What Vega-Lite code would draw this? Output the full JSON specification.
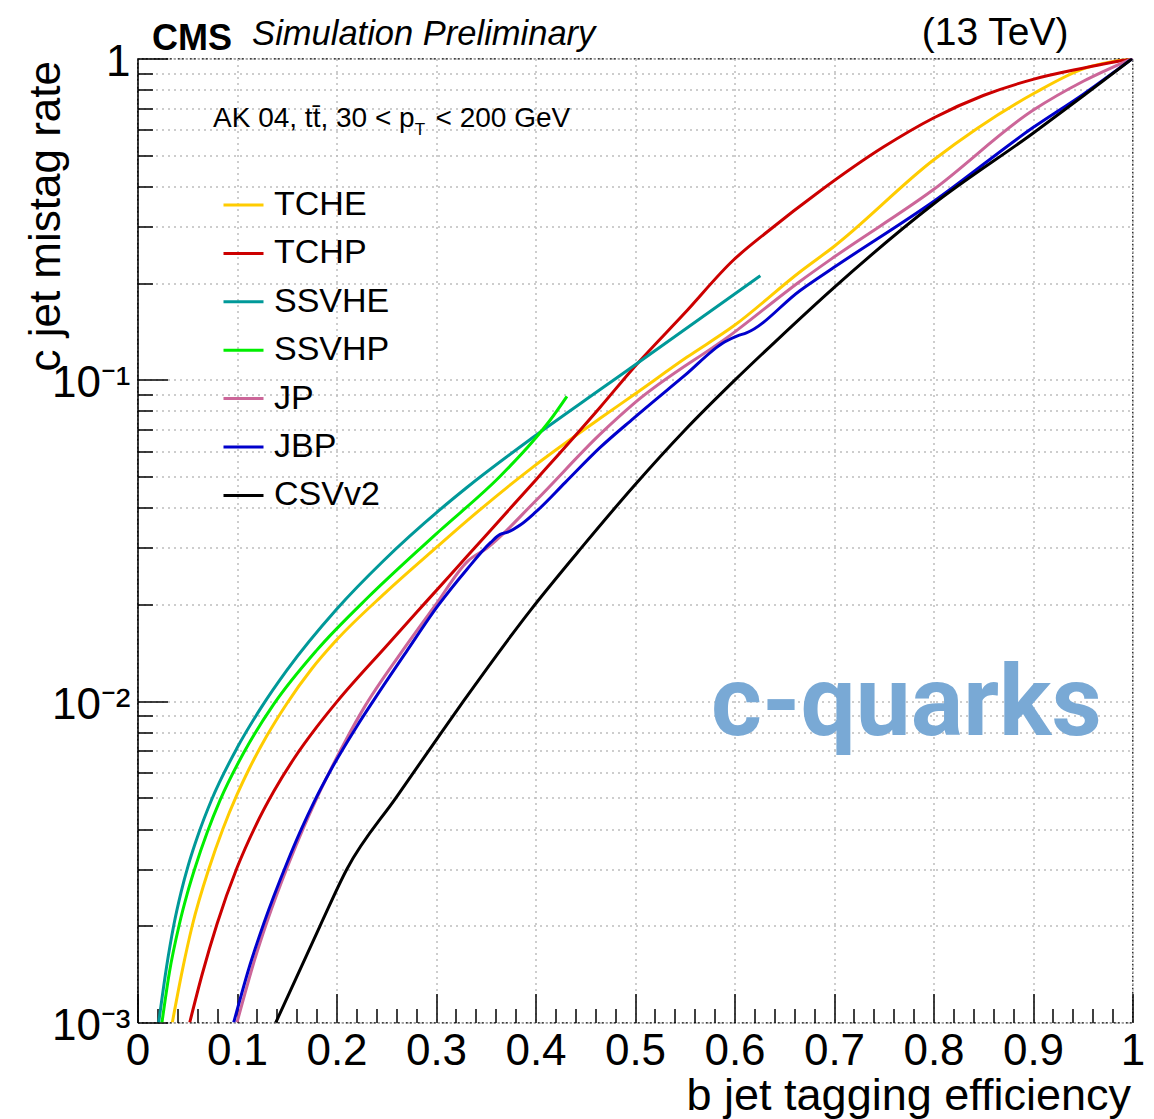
{
  "$schema": "https://vega.github.io/schema/vega-lite/v6.json",
  "width": 995,
  "height": 964,
  "autosize": {"type": "none"},
  "padding": {"left": 137.5, "top": 58.5, "right": 21.5, "bottom": 96.5},
  "background": "white",
  "config": {
    "view": {"stroke": "black", "strokeDash": [2, 2], "strokeWidth": 1.2},
    "text": {"font": "Liberation Sans", "color": "black"}
  },
  "datasets": {
    "curves": [
      {"tagger": "TCHE", "b": 0.035, "c": 0.001},
      {"tagger": "TCHE", "b": 0.045, "c": 0.00145},
      {"tagger": "TCHE", "b": 0.055, "c": 0.002},
      {"tagger": "TCHE", "b": 0.072, "c": 0.003027},
      {"tagger": "TCHE", "b": 0.086, "c": 0.004018},
      {"tagger": "TCHE", "b": 0.1, "c": 0.005117},
      {"tagger": "TCHE", "b": 0.112, "c": 0.00614},
      {"tagger": "TCHE", "b": 0.13, "c": 0.0078},
      {"tagger": "TCHE", "b": 0.15, "c": 0.00982},
      {"tagger": "TCHE", "b": 0.175, "c": 0.01259},
      {"tagger": "TCHE", "b": 0.2, "c": 0.01549},
      {"tagger": "TCHE", "b": 0.249, "c": 0.02173},
      {"tagger": "TCHE", "b": 0.301, "c": 0.0302},
      {"tagger": "TCHE", "b": 0.331, "c": 0.0364},
      {"tagger": "TCHE", "b": 0.398, "c": 0.0537},
      {"tagger": "TCHE", "b": 0.465, "c": 0.0759},
      {"tagger": "TCHE", "b": 0.4985, "c": 0.0897},
      {"tagger": "TCHE", "b": 0.552, "c": 0.1175},
      {"tagger": "TCHE", "b": 0.599, "c": 0.147},
      {"tagger": "TCHE", "b": 0.666, "c": 0.217},
      {"tagger": "TCHE", "b": 0.7, "c": 0.26},
      {"tagger": "TCHE", "b": 0.8, "c": 0.483},
      {"tagger": "TCHE", "b": 0.9007, "c": 0.778},
      {"tagger": "TCHE", "b": 0.951, "c": 0.93},
      {"tagger": "TCHE", "b": 1.0, "c": 1.0},

      {"tagger": "TCHP", "b": 0.0525, "c": 0.001},
      {"tagger": "TCHP", "b": 0.065, "c": 0.001413},
      {"tagger": "TCHP", "b": 0.08, "c": 0.00203},
      {"tagger": "TCHP", "b": 0.1, "c": 0.00303},
      {"tagger": "TCHP", "b": 0.118, "c": 0.00405},
      {"tagger": "TCHP", "b": 0.137, "c": 0.00524},
      {"tagger": "TCHP", "b": 0.158, "c": 0.00668},
      {"tagger": "TCHP", "b": 0.18, "c": 0.0083},
      {"tagger": "TCHP", "b": 0.2003, "c": 0.00995},
      {"tagger": "TCHP", "b": 0.25, "c": 0.01483},
      {"tagger": "TCHP", "b": 0.29, "c": 0.02037},
      {"tagger": "TCHP", "b": 0.331, "c": 0.02818},
      {"tagger": "TCHP", "b": 0.401, "c": 0.04908},
      {"tagger": "TCHP", "b": 0.465, "c": 0.0822},
      {"tagger": "TCHP", "b": 0.4985, "c": 0.1089},
      {"tagger": "TCHP", "b": 0.55, "c": 0.1614},
      {"tagger": "TCHP", "b": 0.599, "c": 0.236},
      {"tagger": "TCHP", "b": 0.633, "c": 0.289},
      {"tagger": "TCHP", "b": 0.686, "c": 0.387},
      {"tagger": "TCHP", "b": 0.75, "c": 0.531},
      {"tagger": "TCHP", "b": 0.8, "c": 0.653},
      {"tagger": "TCHP", "b": 0.85, "c": 0.767},
      {"tagger": "TCHP", "b": 0.9, "c": 0.861},
      {"tagger": "TCHP", "b": 0.95, "c": 0.933},
      {"tagger": "TCHP", "b": 1.0, "c": 1.0},

      {"tagger": "SSVHE", "b": 0.0213, "c": 0.001},
      {"tagger": "SSVHE", "b": 0.029, "c": 0.001476},
      {"tagger": "SSVHE", "b": 0.0364, "c": 0.002004},
      {"tagger": "SSVHE", "b": 0.044, "c": 0.002559},
      {"tagger": "SSVHE", "b": 0.051, "c": 0.003083},
      {"tagger": "SSVHE", "b": 0.0615, "c": 0.003881},
      {"tagger": "SSVHE", "b": 0.0746, "c": 0.004943},
      {"tagger": "SSVHE", "b": 0.1, "c": 0.007145},
      {"tagger": "SSVHE", "b": 0.1249, "c": 0.009616},
      {"tagger": "SSVHE", "b": 0.15, "c": 0.01247},
      {"tagger": "SSVHE", "b": 0.2003, "c": 0.01936},
      {"tagger": "SSVHE", "b": 0.247, "c": 0.02731},
      {"tagger": "SSVHE", "b": 0.304, "c": 0.03945},
      {"tagger": "SSVHE", "b": 0.331, "c": 0.04624},
      {"tagger": "SSVHE", "b": 0.398, "c": 0.06637},
      {"tagger": "SSVHE", "b": 0.465, "c": 0.09325},
      {"tagger": "SSVHE", "b": 0.4985, "c": 0.1104},
      {"tagger": "SSVHE", "b": 0.626, "c": 0.2108},

      {"tagger": "SSVHP", "b": 0.0246, "c": 0.001},
      {"tagger": "SSVHP", "b": 0.032, "c": 0.001429},
      {"tagger": "SSVHP", "b": 0.042, "c": 0.002018},
      {"tagger": "SSVHP", "b": 0.05, "c": 0.002518},
      {"tagger": "SSVHP", "b": 0.058, "c": 0.003041},
      {"tagger": "SSVHP", "b": 0.07, "c": 0.0039},
      {"tagger": "SSVHP", "b": 0.083, "c": 0.00492},
      {"tagger": "SSVHP", "b": 0.107, "c": 0.006934},
      {"tagger": "SSVHP", "b": 0.1366, "c": 0.00975},
      {"tagger": "SSVHP", "b": 0.18, "c": 0.01439},
      {"tagger": "SSVHP", "b": 0.232, "c": 0.02109},
      {"tagger": "SSVHP", "b": 0.284, "c": 0.02985},
      {"tagger": "SSVHP", "b": 0.304, "c": 0.03397},
      {"tagger": "SSVHP", "b": 0.3645, "c": 0.05012},
      {"tagger": "SSVHP", "b": 0.398, "c": 0.06471},
      {"tagger": "SSVHP", "b": 0.4148, "c": 0.07499},
      {"tagger": "SSVHP", "b": 0.4316, "c": 0.08886},

      {"tagger": "JP", "b": 0.1, "c": 0.001},
      {"tagger": "JP", "b": 0.118, "c": 0.001578},
      {"tagger": "JP", "b": 0.13, "c": 0.002051},
      {"tagger": "JP", "b": 0.152, "c": 0.003126},
      {"tagger": "JP", "b": 0.167, "c": 0.004046},
      {"tagger": "JP", "b": 0.18, "c": 0.004977},
      {"tagger": "JP", "b": 0.1936, "c": 0.006081},
      {"tagger": "JP", "b": 0.2103, "c": 0.007656},
      {"tagger": "JP", "b": 0.227, "c": 0.009462},
      {"tagger": "JP", "b": 0.265, "c": 0.01416},
      {"tagger": "JP", "b": 0.299, "c": 0.01982},
      {"tagger": "JP", "b": 0.332, "c": 0.02729},
      {"tagger": "JP", "b": 0.351, "c": 0.02992},
      {"tagger": "JP", "b": 0.4, "c": 0.04198},
      {"tagger": "JP", "b": 0.465, "c": 0.06776},
      {"tagger": "JP", "b": 0.4985, "c": 0.08414},
      {"tagger": "JP", "b": 0.599, "c": 0.14},
      {"tagger": "JP", "b": 0.666, "c": 0.2027},
      {"tagger": "JP", "b": 0.7, "c": 0.241},
      {"tagger": "JP", "b": 0.8, "c": 0.391},
      {"tagger": "JP", "b": 0.9, "c": 0.69},
      {"tagger": "JP", "b": 0.951, "c": 0.851},
      {"tagger": "JP", "b": 1.0, "c": 1.0},

      {"tagger": "JBP", "b": 0.0967, "c": 0.001},
      {"tagger": "JBP", "b": 0.113, "c": 0.00151},
      {"tagger": "JBP", "b": 0.127, "c": 0.002037},
      {"tagger": "JBP", "b": 0.15, "c": 0.003126},
      {"tagger": "JBP", "b": 0.165, "c": 0.004018},
      {"tagger": "JBP", "b": 0.178, "c": 0.004895},
      {"tagger": "JBP", "b": 0.1936, "c": 0.006053},
      {"tagger": "JBP", "b": 0.2204, "c": 0.008344},
      {"tagger": "JBP", "b": 0.237, "c": 0.01002},
      {"tagger": "JBP", "b": 0.27, "c": 0.01422},
      {"tagger": "JBP", "b": 0.302, "c": 0.01982},
      {"tagger": "JBP", "b": 0.331, "c": 0.0257},
      {"tagger": "JBP", "b": 0.355, "c": 0.03119},
      {"tagger": "JBP", "b": 0.3645, "c": 0.03304},
      {"tagger": "JBP", "b": 0.372, "c": 0.03357},
      {"tagger": "JBP", "b": 0.385, "c": 0.0354},
      {"tagger": "JBP", "b": 0.4, "c": 0.03873},
      {"tagger": "JBP", "b": 0.43, "c": 0.04797},
      {"tagger": "JBP", "b": 0.465, "c": 0.06161},
      {"tagger": "JBP", "b": 0.4985, "c": 0.07588},
      {"tagger": "JBP", "b": 0.55, "c": 0.1032},
      {"tagger": "JBP", "b": 0.59, "c": 0.1312},
      {"tagger": "JBP", "b": 0.603, "c": 0.1371},
      {"tagger": "JBP", "b": 0.612, "c": 0.14},
      {"tagger": "JBP", "b": 0.666, "c": 0.1897},
      {"tagger": "JBP", "b": 0.7, "c": 0.2239},
      {"tagger": "JBP", "b": 0.8, "c": 0.3589},
      {"tagger": "JBP", "b": 0.9, "c": 0.6095},
      {"tagger": "JBP", "b": 0.951, "c": 0.776},
      {"tagger": "JBP", "b": 1.0, "c": 1.0},

      {"tagger": "CSVv2", "b": 0.139, "c": 0.001},
      {"tagger": "CSVv2", "b": 0.1835, "c": 0.002},
      {"tagger": "CSVv2", "b": 0.2104, "c": 0.003},
      {"tagger": "CSVv2", "b": 0.2606, "c": 0.005047},
      {"tagger": "CSVv2", "b": 0.301, "c": 0.007638},
      {"tagger": "CSVv2", "b": 0.3276, "c": 0.01},
      {"tagger": "CSVv2", "b": 0.3947, "c": 0.01914},
      {"tagger": "CSVv2", "b": 0.445, "c": 0.02972},
      {"tagger": "CSVv2", "b": 0.4985, "c": 0.04656},
      {"tagger": "CSVv2", "b": 0.55, "c": 0.06966},
      {"tagger": "CSVv2", "b": 0.599, "c": 0.09886},
      {"tagger": "CSVv2", "b": 0.6427, "c": 0.133},
      {"tagger": "CSVv2", "b": 0.7, "c": 0.1937},
      {"tagger": "CSVv2", "b": 0.8, "c": 0.3524},
      {"tagger": "CSVv2", "b": 0.9007, "c": 0.5875},
      {"tagger": "CSVv2", "b": 0.951, "c": 0.767},
      {"tagger": "CSVv2", "b": 1.0, "c": 1.0}
    ]
  },
  "layer": [
    {
      "data": {"name": "curves"},
      "mark": {"type": "line", "strokeWidth": 3, "clip": true, "interpolate": "monotone"},
      "encoding": {
        "x": {
          "field": "b", "type": "quantitative",
          "scale": {"domain": [0, 1], "nice": false, "zero": false},
          "axis": {
            "values": [0, 0.02, 0.04, 0.06, 0.08, 0.1, 0.12, 0.14, 0.16, 0.18, 0.2, 0.22, 0.24, 0.26, 0.28, 0.3, 0.32, 0.34, 0.36, 0.38, 0.4, 0.42, 0.44, 0.46, 0.48, 0.5, 0.52, 0.54, 0.56, 0.58, 0.6, 0.62, 0.64, 0.66, 0.68, 0.7, 0.72, 0.74, 0.76, 0.78, 0.8, 0.82, 0.84, 0.86, 0.88, 0.9, 0.92, 0.94, 0.96, 0.98, 1],
            "tickCount": 200,
            "format": ".1~f",
            "labelExpr": "abs(datum.value*10 - round(datum.value*10)) < 0.001 ? datum.label : ''",
            "tickSize": {"condition": {"test": "abs(datum.value*10 - round(datum.value*10)) < 0.001", "value": -29}, "value": -14},
            "tickColor": "black",
            "tickWidth": 1.5,
            "grid": true,
            "gridOpacity": {"condition": {"test": "abs(datum.value*10 - round(datum.value*10)) < 0.001", "value": 1}, "value": 0},
            "gridColor": "#bdbdbd",
            "gridDash": [2, 4],
            "gridWidth": 1.5,
            "domain": false,
            "labelFont": "Liberation Sans",
            "labelFontSize": 44,
            "labelColor": "black",
            "labelBaseline": "alphabetic",
            "labelPadding": 71,
            "labelFlush": false,
            "labelOverlap": false,
            "labelBound": false,
            "title": "b jet tagging efficiency",
            "titleFont": "Liberation Sans",
            "titleFontSize": 45,
            "titleFontWeight": "normal",
            "titleColor": "black",
            "titleAnchor": "end",
            "titleAlign": "right",
            "titleBaseline": "alphabetic",
            "titleX": 993,
            "titleY": 87
          }
        },
        "y": {
          "field": "c", "type": "quantitative",
          "scale": {"type": "log", "domain": [0.001, 1], "nice": false},
          "axis": {
            "values": [0.001, 0.002, 0.003, 0.004, 0.005, 0.006, 0.007, 0.008, 0.009, 0.01, 0.02, 0.03, 0.04, 0.05, 0.06, 0.07, 0.08, 0.09, 0.1, 0.2, 0.3, 0.4, 0.5, 0.6, 0.7, 0.8, 0.9, 1],
            "tickCount": 200,
            "labelExpr": "datum.value == 1 ? '1' : datum.value == 0.1 ? '10⁻¹' : datum.value == 0.01 ? '10⁻²' : datum.value == 0.001 ? '10⁻³' : ''",
            "tickSize": {"condition": {"test": "datum.value == 1 || datum.value == 0.1 || datum.value == 0.01 || datum.value == 0.001", "value": -30}, "value": -15},
            "tickColor": "black",
            "tickWidth": 1.5,
            "grid": true,
            "gridColor": "#bdbdbd",
            "gridDash": [2, 4],
            "gridWidth": 1.5,
            "domain": true,
            "domainColor": "black",
            "domainWidth": 1.5,
            "labelFont": "Liberation Sans",
            "labelFontSize": 44,
            "labelColor": "black",
            "labelAlign": "right",
            "labelBaseline": "middle",
            "labelPadding": 37.5,
            "labelOffset": 4,
            "labelFlush": false,
            "labelOverlap": false,
            "labelBound": false,
            "title": "c jet mistag rate",
            "titleFont": "Liberation Sans",
            "titleFontSize": 44,
            "titleFontWeight": "normal",
            "titleColor": "black",
            "titleAnchor": "end",
            "titleAlign": "right",
            "titleAngle": -90,
            "titleBaseline": "alphabetic",
            "titleX": -78,
            "titleY": 2
          }
        },
        "color": {
          "field": "tagger", "type": "nominal",
          "scale": {
            "domain": ["TCHE", "TCHP", "SSVHE", "SSVHP", "JP", "JBP", "CSVv2"],
            "range": ["#ffcc00", "#cc0000", "#009999", "#00ee00", "#cc6699", "#0000cc", "#000000"]
          },
          "legend": {
            "orient": "none",
            "legendX": 84.5,
            "legendY": 125,
            "title": null,
            "padding": 0,
            "symbolType": "stroke",
            "symbolSize": 1600,
            "symbolStrokeWidth": 3,
            "labelFont": "Liberation Sans",
            "labelFontSize": 34,
            "labelColor": "black",
            "labelOffset": 9,
            "rowPadding": 9.4,
            "labelLimit": 400
          }
        }
      }
    },
    {
      "data": {"values": [{"note": "CMS"}]},
      "mark": {"type": "text", "font": "Liberation Sans", "fontWeight": "bold", "fontSize": 36, "align": "left", "baseline": "alphabetic", "clip": false},
      "encoding": {
        "x": {"datum": 0.0146, "type": "quantitative"},
        "y": {"datum": 1.063, "type": "quantitative"},
        "text": {"field": "note"}
      }
    },
    {
      "data": {"values": [{"note": "Simulation Preliminary"}]},
      "mark": {"type": "text", "font": "Liberation Sans", "fontStyle": "italic", "fontSize": 34.5, "align": "left", "baseline": "alphabetic", "clip": false},
      "encoding": {
        "x": {"datum": 0.1152, "type": "quantitative"},
        "y": {"datum": 1.1, "type": "quantitative"},
        "text": {"field": "note"}
      }
    },
    {
      "data": {"values": [{"note": "(13 TeV)"}]},
      "mark": {"type": "text", "font": "Liberation Sans", "fontSize": 39, "align": "right", "baseline": "alphabetic", "clip": false},
      "encoding": {
        "x": {"datum": 0.9356, "type": "quantitative"},
        "y": {"datum": 1.1, "type": "quantitative"},
        "text": {"field": "note"}
      }
    },
    {
      "data": {"values": [{"note": "AK 04, tt̄, 30 < p"}]},
      "mark": {"type": "text", "font": "Liberation Sans", "fontSize": 28, "align": "left", "baseline": "alphabetic", "clip": false},
      "encoding": {
        "x": {"datum": 0.0759, "type": "quantitative"},
        "y": {"datum": 0.612, "type": "quantitative"},
        "text": {"field": "note"}
      }
    },
    {
      "data": {"values": [{"note": "T"}]},
      "mark": {"type": "text", "font": "Liberation Sans", "fontSize": 17, "align": "left", "baseline": "alphabetic", "clip": false},
      "encoding": {
        "x": {"datum": 0.2787, "type": "quantitative"},
        "y": {"datum": 0.576, "type": "quantitative"},
        "text": {"field": "note"}
      }
    },
    {
      "data": {"values": [{"note": "< 200 GeV"}]},
      "mark": {"type": "text", "font": "Liberation Sans", "fontSize": 28, "align": "right", "baseline": "alphabetic", "clip": false},
      "encoding": {
        "x": {"datum": 0.4349, "type": "quantitative"},
        "y": {"datum": 0.612, "type": "quantitative"},
        "text": {"field": "note"}
      }
    },
    {
      "data": {"values": [{"note": "c-quarks"}]},
      "mark": {"type": "text", "font": "Roboto", "fontWeight": "bold", "fontSize": 98, "align": "center", "baseline": "alphabetic", "color": "#79a9d5", "clip": false},
      "encoding": {
        "x": {"datum": 0.7727, "type": "quantitative"},
        "y": {"datum": 0.00785, "type": "quantitative"},
        "text": {"field": "note"}
      }
    }
  ]
}
